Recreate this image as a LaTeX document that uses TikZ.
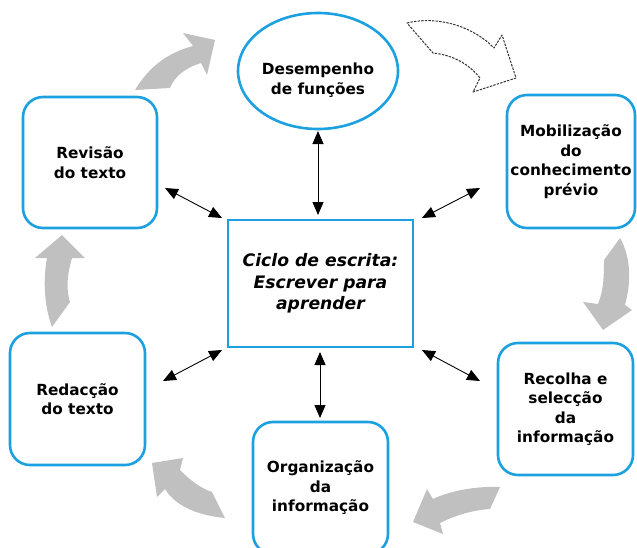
\documentclass[tikz,border=0pt]{standalone}
\usepackage{fontspec}
\setmainfont{DejaVu Sans}
\usetikzlibrary{arrows.meta,shapes.geometric}
\definecolor{bblue}{RGB}{28,160,224}
\definecolor{garrow}{RGB}{192,192,192}
\begin{document}
\begin{tikzpicture}[x=1pt,y=-1pt,
  boxtxt/.style={font=\fontsize{15.3}{19.5}\selectfont\bfseries, align=center},
  stagebox/.style={boxtxt, draw=bblue, line width=2.6pt, rounded corners=20pt, inner sep=0pt},
  centerbox/.style={draw=bblue, line width=2.8pt, inner sep=0pt, align=center,
    font=\fontsize{17.2}{21.5}\selectfont\bfseries\itshape},
  dbl/.style={{Triangle[length=13pt,width=11pt]}-{Triangle[length=13pt,width=11pt]}, line width=0.9pt, black},
  grayarrow/.style={fill=garrow, draw=none},
  openarrow/.style={fill=white, draw=black!80, line width=1pt, dash pattern=on 2.4pt off 1.2pt, line join=round}
]
\useasboundingbox (0,0) rectangle (637,547);

% nodes
\node[draw=bblue, line width=2.6pt, ellipse, minimum width=160pt, minimum height=116pt, inner sep=0pt] (des) at (318,71) {};
\node[boxtxt] (destxt) at (318,80) {Desempenho\\de funções};
\node[stagebox, minimum width=128pt, minimum height=133pt] (mob) at (571,161.5) {Mobilização\\do\\conhecimento\\prévio};
\node[stagebox, minimum width=135pt, minimum height=132pt] (rec) at (565.5,409) {Recolha e\\selecção\\da\\informação};
\node[stagebox, minimum width=135pt, minimum height=132pt] (org) at (320.5,488) {Organização\\da\\informação};
\node[stagebox, minimum width=135pt, minimum height=132pt] (red) at (77.5,399) {Redacção\\do texto};
\node[stagebox, minimum width=134pt, minimum height=131pt] (rev) at (90,162.5) {Revisão\\do texto};
\node[centerbox, minimum width=185pt, minimum height=127pt] (ctr) at (320.5,283.5) {Ciclo de escrita:\\Escrever para\\aprender};

% connector end points
\coordinate (c1) at (318,131);
\coordinate (c2) at (318,215);
\coordinate (c3) at (165,188);
\coordinate (c4) at (222,218);
\coordinate (c5) at (422,218);
\coordinate (c6) at (480,188);
\coordinate (c7) at (163,381);
\coordinate (c8) at (222,350);
\coordinate (c9) at (422,350);
\coordinate (c10) at (480,381);
\coordinate (c11) at (320,352);
\coordinate (c12) at (320,418);

\draw[dbl] (c1) -- (c2);
\draw[dbl] (c3) -- (c4);
\draw[dbl] (c5) -- (c6);
\draw[dbl] (c7) -- (c8);
\draw[dbl] (c9) -- (c10);
\draw[dbl] (c11) -- (c12);

% gray cycle arrows
\fill[grayarrow] (135,90) .. controls (150,65) and (170,52) .. (193,46) -- (183,33) -- (215,40) -- (207,75) -- (201,63) .. controls (185,68) and (175,76) .. (170,88) -- cycle;
\filldraw[openarrow] (407,23) .. controls (440,15) and (475,28) .. (494,48) -- (502,35) -- (516,78) -- (473,92) -- (480,78) .. controls (468,63) and (452,55) .. (433,53) -- cycle;
\fill[grayarrow] (620,238) .. controls (630,255) and (632,280) .. (625,305) -- (632,310) -- (603,330) -- (583,302) -- (598,304) .. controls (604,290) and (604,272) .. (604,260) -- cycle;
\fill[grayarrow] (500,487) .. controls (478,486) and (452,490) .. (433,499) -- (427,489) -- (413,522) -- (443,534) -- (440,523) .. controls (458,514) and (475,510) .. (490,509) -- cycle;
\fill[grayarrow] (212,492) .. controls (200,488) and (190,480) .. (180,470) -- (183,458) -- (152,463) -- (157,497) -- (165,489) .. controls (175,505) and (195,515) .. (225,518) -- cycle;
\fill[grayarrow] (52,327) .. controls (44,305) and (43,280) .. (47,258) -- (35,258) -- (62,235) -- (85,258) -- (72,258) .. controls (67,275) and (66,290) .. (70,302) -- cycle;
\end{tikzpicture}
\end{document}
